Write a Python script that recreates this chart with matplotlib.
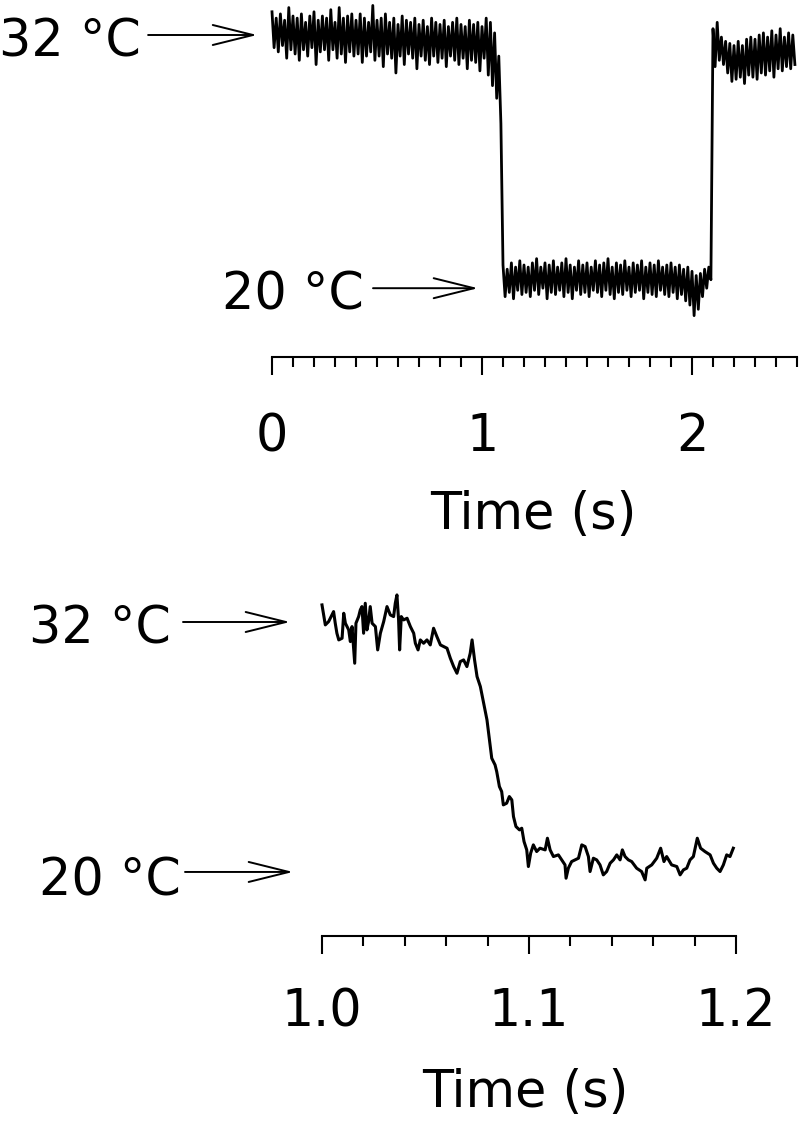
import numpy as np
import matplotlib
matplotlib.use("Agg")
import matplotlib.pyplot as plt

# --- top trace: full 32 -> 20 -> 32 °C step, read as upper/lower edges of the noisy band
# one pair every 0.02 s from 0.00 to 2.48 s (upper at t, lower at t + 0.01)
top_hi = [
    33.1, 32.8, 33.0, 32.7, 33.3, 32.9, 32.8, 33.0, 32.6, 32.9,
    33.1, 32.7, 32.9, 32.8, 33.2, 32.6, 33.3, 32.8, 32.9, 33.0,
    32.7, 33.0, 32.8, 32.6, 33.4, 32.7, 32.8, 33.0, 32.6, 32.8,
    32.5, 32.9, 32.7, 32.6, 32.8, 32.5, 32.7, 32.4, 32.8, 32.6,
    32.5, 32.7, 32.4, 32.6, 32.8, 32.5, 32.4, 32.7, 32.5, 32.6,
    32.4, 32.8, 32.6,
    32.1, 31.0,
    21.1, 20.9, 21.2, 21.0, 21.3, 21.1, 21.0, 21.2, 21.4, 21.0,
    21.2, 21.1, 21.3, 21.0, 21.2, 21.4, 21.1, 21.0, 21.3, 21.1,
    21.2, 21.0, 21.3, 21.1, 21.2, 21.4, 21.0, 21.2, 21.1, 21.3,
    21.0, 21.2, 21.1, 21.3, 21.0, 21.2, 21.1, 21.3, 21.0, 21.1,
    21.2, 21.0, 21.1, 20.9, 21.0, 20.8, 20.6, 20.7, 20.9,
    21.0,
    32.3, 32.6, 31.9, 31.7, 31.6, 31.5, 31.7, 31.5, 31.8, 31.9,
    31.8, 32.0, 32.1, 31.9, 32.2, 32.0, 32.3, 31.9, 32.1, 32.0,
]
top_lo = [
    31.4, 31.2, 31.5, 30.9, 31.3, 31.1, 30.8, 31.3, 31.0, 31.4,
    30.6, 31.2, 31.3, 30.8, 31.3, 30.9, 31.1, 30.7, 31.2, 31.0,
    31.1, 30.7, 31.0, 31.2, 30.8, 31.0, 30.5, 31.1, 30.9, 30.2,
    31.0, 30.6, 31.1, 30.9, 30.4, 31.0, 30.8, 30.6, 31.0, 30.7,
    30.9, 30.5, 31.0, 30.8, 30.6, 30.9, 30.4, 30.8, 30.7, 30.3,
    30.9, 30.1, 29.6,
    29.0, 27.8,
    19.6, 19.8, 19.5, 19.9, 19.7, 19.8, 19.6, 19.9, 19.7, 20.0,
    19.5, 19.8, 19.7, 19.9, 19.6, 19.8, 19.5, 19.9, 19.7, 19.8,
    19.6, 19.9, 19.8, 19.6, 19.9, 19.7, 19.5, 19.8, 19.7, 19.9,
    19.6, 19.8, 19.9, 19.5, 19.8, 19.7, 19.6, 19.9, 19.7, 19.6,
    19.8, 19.5, 19.7, 19.4, 19.2, 18.7, 19.0, 19.6, 20.0,
    20.4,
    30.5, 30.8, 30.6, 30.2, 29.8, 29.9, 30.0, 29.7, 30.1, 30.0,
    29.9, 30.2, 30.1, 30.3, 30.0, 30.4, 30.3, 30.5, 30.4, 30.6,
]

# --- bottom trace: zoom on the cooling step, 1.0 - 1.2 s
bot_t = [
    1.0000, 1.0016, 1.0032, 1.0056, 1.0064, 1.0072, 1.0081, 1.0097, 1.0105, 1.0113,
    1.0129, 1.0137, 1.0145, 1.0158, 1.0164, 1.0177, 1.0185, 1.0193, 1.0201, 1.0209,
    1.0217, 1.0225, 1.0233, 1.0242, 1.0258, 1.0269, 1.0282, 1.0298, 1.0314, 1.0330,
    1.0346, 1.0354, 1.0362, 1.0370, 1.0375, 1.0383, 1.0394, 1.0411, 1.0427, 1.0443,
    1.0451, 1.0464, 1.0475, 1.0491, 1.0507, 1.0523, 1.0539, 1.0555, 1.0572, 1.0588,
    1.0604, 1.0620, 1.0636, 1.0652, 1.0668, 1.0684, 1.0700, 1.0716, 1.0725, 1.0737,
    1.0749, 1.0765, 1.0781, 1.0797, 1.0812, 1.0820, 1.0836, 1.0844, 1.0857, 1.0868,
    1.0876, 1.0892, 1.0905, 1.0917, 1.0925, 1.0937, 1.0954, 1.0965, 1.0976, 1.0989,
    1.0997, 1.1008, 1.1021, 1.1037, 1.1053, 1.1078, 1.1089, 1.1102, 1.1118, 1.1142,
    1.1158, 1.1174, 1.1179, 1.1190, 1.1206, 1.1222, 1.1239, 1.1255, 1.1271, 1.1287,
    1.1295, 1.1311, 1.1327, 1.1343, 1.1359, 1.1375, 1.1392, 1.1408, 1.1424, 1.1440,
    1.1451, 1.1464, 1.1480, 1.1496, 1.1520, 1.1544, 1.1561, 1.1569, 1.1593, 1.1617,
    1.1636, 1.1652, 1.1665, 1.1689, 1.1714, 1.1730, 1.1746, 1.1762, 1.1778, 1.1794,
    1.1813, 1.1829, 1.1850, 1.1875, 1.1891, 1.1907, 1.1923, 1.1939, 1.1955, 1.1971,
    1.1987,
]
bot_T = [
    32.82, 31.86, 32.02, 32.50, 31.94, 31.46, 31.14, 31.22, 32.42, 31.94,
    31.62, 31.06, 31.78, 30.02, 31.94, 32.26, 32.58, 32.74, 31.46, 32.90,
    31.62, 32.02, 32.74, 31.94, 31.78, 30.66, 31.46, 32.02, 32.74, 32.34,
    32.26, 32.90, 33.30, 32.10, 30.66, 32.26, 32.10, 32.18, 31.78, 31.46,
    30.98, 30.66, 31.14, 30.98, 31.14, 30.90, 31.70, 31.30, 30.90, 30.82,
    30.74, 30.26, 29.86, 29.54, 30.10, 30.18, 29.86, 30.50, 31.14, 30.18,
    29.38, 28.90, 28.10, 27.30, 26.10, 25.46, 25.14, 24.82, 24.10, 23.86,
    23.22, 23.30, 23.62, 23.46, 22.66, 22.18, 22.02, 22.10, 21.46, 21.06,
    20.26, 20.90, 21.30, 20.98, 21.14, 21.06, 21.62, 21.06, 20.74, 20.82,
    20.58, 20.34, 19.70, 20.18, 20.50, 20.58, 20.66, 21.30, 21.22, 20.74,
    20.02, 20.66, 20.58, 20.34, 19.86, 20.02, 20.42, 20.58, 20.82, 20.58,
    21.06, 20.74, 20.58, 20.50, 20.18, 20.02, 19.62, 20.18, 20.34, 20.66,
    21.14, 20.50, 20.74, 20.34, 20.26, 19.86, 20.10, 20.18, 20.58, 20.74,
    21.62, 21.14, 20.98, 20.82, 20.42, 20.18, 20.02, 20.34, 20.82, 20.74,
    21.14,
]

top_ticks = [0, 1, 2]
top_ticklabels = ["0", "1", "2"]
bot_ticks = [1.0, 1.1, 1.2]
bot_ticklabels = ["1.0", "1.1", "1.2"]
levels = [32, 20]
level_labels = ["32 °C", "20 °C"]

FS = 36.5
W, H = 800, 1127


def style_axis(ax, lo, hi, ticks, labels, minor_step, pad):
    for side in ("left", "right", "top"):
        ax.spines[side].set_visible(False)
    ax.spines["bottom"].set_bounds(lo, hi)
    ax.spines["bottom"].set_linewidth(1.5)
    ax.set_yticks([])
    ax.set_xticks(ticks)
    ax.set_xticklabels(labels)
    ax.set_xticks(np.arange(lo, hi + minor_step / 2, minor_step), minor=True)
    ax.tick_params(axis="x", which="major", direction="out", length=13, width=1.5,
                   pad=pad, labelsize=FS)
    ax.tick_params(axis="x", which="minor", direction="out", length=7.5, width=1.5)
    ax.patch.set_visible(False)


def level_arrow(ax, text_x, text_y, tail, tip, level, label):
    ax.text(text_x, text_y, label, fontsize=FS, ha="left", va="baseline")
    ax.annotate("", xy=(tip, level), xytext=(tail, level),
                arrowprops=dict(arrowstyle="->,head_length=1.45,head_width=0.36",
                                lw=1.4, color="black", shrinkA=0, shrinkB=0,
                                mutation_scale=20),
                annotation_clip=False)


def main():
    fig = plt.figure(figsize=(W / 100, H / 100), dpi=100)

    # top panel: 0..2.5 s, 210 px per s, 21.1 px per °C
    ax1 = fig.add_axes([0, 1 - 356.5 / H, 1, 356.5 / H])
    ax1.set_xlim(-272 / 210, 528 / 210)
    ax1.set_ylim(32 - (356.5 - 35) / 21.1, 32 + 35 / 21.1)
    t = np.arange(len(top_hi)) * 0.02
    xs = np.column_stack([t, t + 0.01]).ravel()
    ys = np.column_stack([top_hi, top_lo]).ravel()
    ax1.plot(xs, ys, color="black", lw=2.0, clip_on=False)
    style_axis(ax1, 0, 2.5, top_ticks, top_ticklabels, 0.1, 27)
    ax1.set_xlabel("Time (s)", fontsize=FS)
    ax1.xaxis.set_label_coords(533.5 / W, 1 - 490.5 / 356.5)
    level_arrow(ax1, -1.30, 31.0, -0.590, -0.071, levels[0], level_labels[0])
    level_arrow(ax1, -0.238, 18.97, 0.481, 0.981, levels[1], level_labels[1])

    # bottom panel: 1.0..1.2 s, 2070 px per s, 20.83 px per °C
    ax2 = fig.add_axes([0, 1 - 936 / H, 1, 356 / H])
    ax2.set_xlim(1 - 322 / 2070, 1 + 478 / 2070)
    ax2.set_ylim(32 - 314 / 20.83, 32 + 42 / 20.83)
    ax2.plot(bot_t, bot_T, color="black", lw=2.2, clip_on=False)
    style_axis(ax2, 1.0, 1.2, bot_ticks, bot_ticklabels, 0.02, 24)
    ax2.set_xlabel("Time (s)", fontsize=FS)
    ax2.xaxis.set_label_coords(525.5 / W, 1 - (1068.5 - 580) / 356)
    level_arrow(ax2, 0.85845, 30.99, 0.93285, 0.98454, levels[0], level_labels[0])
    level_arrow(ax2, 0.86329, 18.85, 0.93382, 0.98599, levels[1], level_labels[1])

    fig.savefig("out.png", dpi=100)


if __name__ == "__main__":
    main()
